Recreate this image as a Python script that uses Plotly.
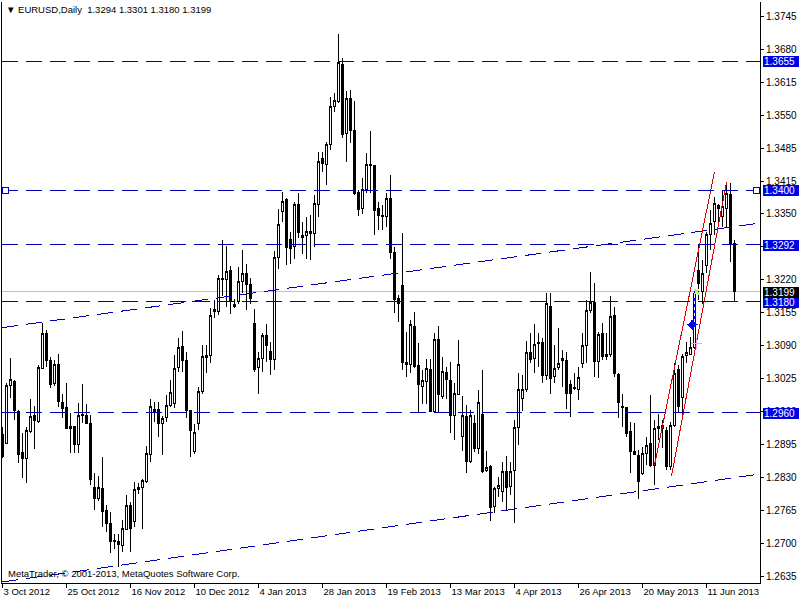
import numpy as np
import pandas as pd
import plotly.graph_objects as go

# trading days shown in the terminal (three holiday bars missing)
holidays = ["2012-12-25", "2012-12-26", "2013-01-01"]
dates = [d.strftime("%Y-%m-%d") for d in pd.bdate_range("2012-10-03", "2013-06-20")
         if d.strftime("%Y-%m-%d") not in holidays]

opens = [1.2916, 1.2899, 1.3014, 1.3021, 1.2963, 1.2881, 1.2869, 1.2923, 1.2954, 1.2942,
         1.3048, 1.3116, 1.3063, 1.3018, 1.3056, 1.2981, 1.2971, 1.2932, 1.2932, 1.2897,
         1.2955, 1.2955, 1.2939, 1.2812, 1.2790, 1.2810, 1.2766, 1.2741, 1.2708, 1.2705,
         1.2698, 1.2729, 1.2776, 1.2744, 1.2808, 1.2812, 1.2823, 1.2878, 1.2962, 1.2967,
         1.2939, 1.2951, 1.2975, 1.2978, 1.3049, 1.3092, 1.3064, 1.2964, 1.2883, 1.2938,
         1.3002, 1.3070, 1.3074, 1.3165, 1.3161, 1.3224, 1.3223, 1.3241, 1.3171, 1.3180,
         1.3219, 1.3236, 1.3213, 1.3137, 1.3050, 1.3068, 1.3112, 1.3082, 1.3065, 1.3267,
         1.3358, 1.3381, 1.3303, 1.3288, 1.3372, 1.3310, 1.3311, 1.3315, 1.3315, 1.3372,
         1.3463, 1.3451, 1.3490, 1.3565, 1.3575, 1.3649, 1.3513, 1.3581, 1.3519, 1.3396,
         1.3365, 1.3402, 1.3451, 1.3449, 1.3364, 1.3350, 1.3348, 1.3384, 1.3278, 1.3186,
         1.3211, 1.3059, 1.3056, 1.3130, 1.3054, 1.3012, 1.3021, 1.3046, 1.2962, 1.3104,
         1.2993, 1.3040, 1.3023, 1.2955, 1.2997, 1.2912, 1.2953, 1.2863, 1.2939, 1.2889,
         1.2957, 1.2846, 1.2854, 1.2774, 1.2810, 1.2804, 1.2843, 1.2815, 1.2846, 1.2931,
         1.2988, 1.3005, 1.3079, 1.3068, 1.3098, 1.3098, 1.3034, 1.3171, 1.3031, 1.3050,
         1.3067, 1.3064, 1.3015, 1.3010, 1.3006, 1.3058, 1.3094, 1.3163, 1.3178, 1.3061,
         1.3116, 1.3071, 1.3075, 1.3153, 1.3036, 1.2973, 1.2970, 1.2922, 1.2883, 1.2876,
         1.2840, 1.2879, 1.2900, 1.2856, 1.2932, 1.2929, 1.2924, 1.2853, 1.2935, 1.3046,
         1.2990, 1.3074, 1.3076, 1.3090, 1.3242, 1.3199, 1.3252, 1.3312, 1.3338, 1.3371,
         1.3348, 1.3364, 1.3391, 1.3294]
highs = [1.2932, 1.3018, 1.3068, 1.3025, 1.2965, 1.2919, 1.2932, 1.2988, 1.2973, 1.3054,
         1.3137, 1.3124, 1.3070, 1.3064, 1.3076, 1.2998, 1.3018, 1.2959, 1.2934, 1.2979,
         1.3017, 1.2977, 1.2955, 1.2840, 1.2835, 1.2873, 1.2777, 1.2764, 1.2721, 1.2721,
         1.2747, 1.2797, 1.2784, 1.2822, 1.2820, 1.2828, 1.2895, 1.2987, 1.2982, 1.2982,
         1.2954, 1.2995, 1.3025, 1.3075, 1.3107, 1.3122, 1.3081, 1.2966, 1.2938, 1.3011,
         1.3094, 1.3094, 1.3167, 1.3183, 1.3233, 1.3302, 1.3290, 1.3250, 1.3186, 1.3249,
         1.3282, 1.3254, 1.3226, 1.3166, 1.3080, 1.3118, 1.3135, 1.3100, 1.3280, 1.3364,
         1.3397, 1.3384, 1.3318, 1.3377, 1.3394, 1.3338, 1.3348, 1.3351, 1.3391, 1.3476,
         1.3476, 1.3496, 1.3585, 1.3592, 1.3709, 1.3661, 1.3597, 1.3598, 1.3577, 1.3400,
         1.3424, 1.3473, 1.3517, 1.3450, 1.3377, 1.3371, 1.3394, 1.3430, 1.3288, 1.3193,
         1.3315, 1.3120, 1.3143, 1.3160, 1.3097, 1.3044, 1.3067, 1.3067, 1.3117, 1.3132,
         1.3071, 1.3051, 1.3061, 1.3018, 1.3104, 1.2993, 1.2975, 1.2966, 1.2955, 1.3005,
         1.3044, 1.2885, 1.2856, 1.2813, 1.2833, 1.2863, 1.2874, 1.2863, 1.2946, 1.3038,
         1.3035, 1.3101, 1.3117, 1.3135, 1.3117, 1.3107, 1.3197, 1.3196, 1.3094, 1.3127,
         1.3084, 1.3081, 1.3025, 1.3038, 1.3051, 1.3117, 1.3183, 1.3239, 1.3216, 1.3120,
         1.3137, 1.3117, 1.3190, 1.3170, 1.3038, 1.2998, 1.2972, 1.2942, 1.2939, 1.2886,
         1.2892, 1.2912, 1.2995, 1.2945, 1.2958, 1.2945, 1.2932, 1.2942, 1.3058, 1.3054,
         1.3077, 1.3100, 1.3110, 1.3200, 1.3292, 1.3262, 1.3318, 1.3361, 1.3387, 1.3374,
         1.3401, 1.3417, 1.3414, 1.3301]
lows = [1.2870, 1.2898, 1.2990, 1.2945, 1.2860, 1.2830, 1.2820, 1.2919, 1.2889, 1.2939,
        1.3046, 1.3051, 1.3008, 1.3012, 1.2972, 1.2949, 1.2927, 1.2880, 1.2880, 1.2880,
        1.2939, 1.2938, 1.2817, 1.2767, 1.2785, 1.2734, 1.2724, 1.2682, 1.2690, 1.2655,
        1.2685, 1.2728, 1.2685, 1.2734, 1.2800, 1.2730, 1.2820, 1.2863, 1.2942, 1.2912,
        1.2876, 1.2942, 1.2972, 1.2970, 1.3041, 1.3041, 1.2949, 1.2873, 1.2878, 1.2926,
        1.2998, 1.3038, 1.3058, 1.3147, 1.3154, 1.3190, 1.3170, 1.3156, 1.3168, 1.3176,
        1.3196, 1.3163, 1.3176, 1.3040, 1.2998, 1.3040, 1.3060, 1.3035, 1.3045, 1.3245,
        1.3338, 1.3252, 1.3255, 1.3265, 1.3305, 1.3275, 1.3265, 1.3262, 1.3288, 1.3348,
        1.3437, 1.3410, 1.3480, 1.3556, 1.3572, 1.3503, 1.3456, 1.3493, 1.3391, 1.3350,
        1.3354, 1.3394, 1.3394, 1.3311, 1.3321, 1.3321, 1.3328, 1.3265, 1.3158, 1.3140,
        1.3044, 1.3031, 1.3038, 1.3048, 1.2962, 1.2978, 1.2978, 1.2962, 1.2959, 1.2959,
        1.2988, 1.2988, 1.2919, 1.2907, 1.2995, 1.2885, 1.2840, 1.2860, 1.2883, 1.2879,
        1.2840, 1.2843, 1.2745, 1.2761, 1.2794, 1.2784, 1.2767, 1.2797, 1.2741, 1.2896,
        1.2964, 1.3002, 1.3059, 1.3038, 1.3051, 1.3018, 1.3025, 1.2998, 1.3018, 1.3044,
        1.3011, 1.2968, 1.2952, 1.3005, 1.2985, 1.3048, 1.3058, 1.3157, 1.3031, 1.3028,
        1.3064, 1.3064, 1.3071, 1.3031, 1.2949, 1.2932, 1.2912, 1.2840, 1.2876, 1.2790,
        1.2836, 1.2856, 1.2853, 1.2817, 1.2906, 1.2890, 1.2846, 1.2846, 1.2932, 1.2962,
        1.2958, 1.3058, 1.3074, 1.3087, 1.3183, 1.3176, 1.3236, 1.3282, 1.3312, 1.3328,
        1.3328, 1.3325, 1.3259, 1.3180]
closes = [1.2873, 1.3013, 1.3026, 1.2964, 1.2878, 1.2869, 1.2924, 1.2952, 1.2944, 1.3050,
          1.3116, 1.3063, 1.3016, 1.3056, 1.2982, 1.2969, 1.2929, 1.2929, 1.2898, 1.2955,
          1.2957, 1.2939, 1.2827, 1.2790, 1.2812, 1.2764, 1.2741, 1.2705, 1.2705, 1.2699,
          1.2731, 1.2776, 1.2731, 1.2809, 1.2812, 1.2825, 1.2880, 1.2973, 1.2967, 1.2939,
          1.2949, 1.2975, 1.3000, 1.3048, 1.3089, 1.3064, 1.2964, 1.2924, 1.2920, 1.3002,
          1.3071, 1.3073, 1.3152, 1.3160, 1.3226, 1.3226, 1.3239, 1.3180, 1.3175, 1.3219,
          1.3235, 1.3213, 1.3187, 1.3045, 1.3068, 1.3112, 1.3094, 1.3065, 1.3268, 1.3333,
          1.3377, 1.3286, 1.3285, 1.3372, 1.3317, 1.3307, 1.3318, 1.3319, 1.3374, 1.3457,
          1.3453, 1.3490, 1.3565, 1.3577, 1.3653, 1.3511, 1.3581, 1.3519, 1.3394, 1.3362,
          1.3402, 1.3451, 1.3449, 1.3361, 1.3351, 1.3349, 1.3384, 1.3278, 1.3185, 1.3176,
          1.3059, 1.3056, 1.3135, 1.3052, 1.3015, 1.3023, 1.3048, 1.2962, 1.3104, 1.2997,
          1.3042, 1.3026, 1.2955, 1.2999, 1.3056, 1.2955, 1.2863, 1.2955, 1.2889, 1.2980,
          1.2843, 1.2852, 1.2773, 1.2810, 1.2817, 1.2843, 1.2813, 1.2843, 1.2931, 1.3006,
          1.3006, 1.3079, 1.3066, 1.3096, 1.3097, 1.3034, 1.3176, 1.3028, 1.3047, 1.3058,
          1.3063, 1.2998, 1.2999, 1.3008, 1.3030, 1.3094, 1.3163, 1.3178, 1.3061, 1.3114,
          1.3071, 1.3075, 1.3150, 1.3038, 1.2980, 1.2970, 1.2919, 1.2883, 1.2878, 1.2823,
          1.2879, 1.2896, 1.2856, 1.2929, 1.2929, 1.2935, 1.2853, 1.2935, 1.3038, 1.2972,
          1.3072, 1.3079, 1.3089, 1.3196, 1.3215, 1.3236, 1.3312, 1.3335, 1.3374, 1.3364,
          1.3368, 1.3394, 1.3295, 1.3199]

# horizontal levels drawn on the chart
level_prices = [1.3655, 1.3400, 1.3292, 1.3180, 1.2960]
bid_price = closes[-1]

# trend lines: two anchor points each (bar index, price)
resist_bars, resist_prices = [0, 183], [1.31285, 1.33283]
support_bars, support_prices = [0, 183], [1.26251, 1.28315]
red_a_bars, red_a_prices = [163, 178], [1.28566, 1.34363]
red_b_bars, red_b_prices = [167.25, 181], [1.28348, 1.34166]

# trade marks
trade_open_bar, trade_open_price = 172.4, 1.3134
trade_close_bar, trade_close_price = 173.6, 1.3199
trade_line_bar = 173
stop_bar, stop_price = 173.5, 1.3097

ytick_labels = ["1.2635", "1.2700", "1.2765", "1.2830", "1.2895", "1.2960", "1.3025",
                "1.3090", "1.3155", "1.3220", "1.3285", "1.3350", "1.3415", "1.3485",
                "1.3550", "1.3615", "1.3680", "1.3745"]
xtick_labels = ["3 Oct 2012", "25 Oct 2012", "16 Nov 2012", "10 Dec 2012", "4 Jan 2013",
                "28 Jan 2013", "19 Feb 2013", "13 Mar 2013", "4 Apr 2013", "26 Apr 2013",
                "20 May 2013", "11 Jun 2013"]

X_RANGE = [-0.125, 189.375]
Y_RANGE = [1.26231, 1.37727]
FONT = "Liberation Sans, Arial, sans-serif"
LINE_BLUE = "#0000B4"
LABEL_BLUE = "#0000E6"
DASH = "16px,8px"


def extend(bars, prices):
    slope = (prices[1] - prices[0]) / (bars[1] - bars[0])
    return X_RANGE, [prices[0] + slope * (x - bars[0]) for x in X_RANGE]


idx = list(range(len(dates)))
fig = go.Figure()

fig.add_trace(go.Candlestick(
    x=idx, open=opens, high=highs, low=lows, close=closes,
    hovertext=dates, whiskerwidth=0,
    increasing=dict(line=dict(color="black", width=1), fillcolor="white"),
    decreasing=dict(line=dict(color="black", width=1), fillcolor="black"),
    showlegend=False,
))

# bid line
fig.add_hline(y=bid_price, line=dict(color="#C0C0C0", width=1), layer="below")

for bars, prices in [(resist_bars, resist_prices), (support_bars, support_prices)]:
    xs, ys = extend(bars, prices)
    fig.add_trace(go.Scatter(x=xs, y=ys, mode="lines", showlegend=False, hoverinfo="skip",
                             line=dict(color=LINE_BLUE, width=1, dash=DASH)))

for bars, prices in [(red_a_bars, red_a_prices), (red_b_bars, red_b_prices)]:
    fig.add_trace(go.Scatter(x=bars, y=prices, mode="lines", showlegend=False, hoverinfo="skip",
                             line=dict(color="#E00000", width=1)))

for p in level_prices:
    fig.add_hline(y=p, line=dict(color=LINE_BLUE, width=1, dash=DASH))

# trade marks
fig.add_trace(go.Scatter(x=[trade_line_bar, trade_line_bar], y=[trade_open_price, trade_close_price],
                         mode="lines", showlegend=False, hoverinfo="skip",
                         line=dict(color="#0000FF", width=2, dash="dot")))
fig.add_trace(go.Scatter(x=[trade_open_bar], y=[trade_open_price], mode="markers", showlegend=False,
                         hoverinfo="skip", marker=dict(symbol="star-diamond", size=9, color="#0000FF")))
fig.add_trace(go.Scatter(x=[trade_close_bar], y=[trade_close_price], mode="markers", showlegend=False,
                         hoverinfo="skip",
                         marker=dict(symbol="x-thin-open", size=5, line=dict(color="#D0A040", width=1.5))))
fig.add_trace(go.Scatter(x=[stop_bar], y=[stop_price], mode="markers", showlegend=False,
                         hoverinfo="skip",
                         marker=dict(symbol="cross-thin-open", size=8, line=dict(color="#FF0000", width=1.5))))

# selection handles on the 1.3400 line
for px_ in [0.004, 0.9955]:
    fig.add_shape(type="rect", xref="paper", yref="y", xsizemode="pixel", ysizemode="pixel",
                  xanchor=px_, yanchor=level_prices[1], x0=-3, x1=3, y0=-3, y1=3,
                  line=dict(color=LINE_BLUE, width=1), fillcolor="white")

# price labels on the scale
for p, bg in [(p, LABEL_BLUE) for p in level_prices] + [(bid_price, "black")]:
    fig.add_annotation(x=1, xref="paper", y=p, yref="y", xanchor="left", xshift=2,
                       text=f"{p:.4f}", showarrow=False, bgcolor=bg, borderpad=1,
                       width=33, height=8, align="left",
                       font=dict(family=FONT, size=10, color="white"))

fig.add_annotation(x=0, xref="paper", y=1, yref="paper", xanchor="left", yanchor="top",
                   xshift=2, yshift=0, showarrow=False, align="left",
                   text=f"\u25bc EURUSD,Daily\u00a0 {opens[-1]:.4f} {highs[-1]:.4f} {lows[-1]:.4f} {closes[-1]:.4f}",
                   font=dict(family=FONT, size=9.5, color="black"))
fig.add_annotation(x=0, xref="paper", y=0, yref="paper", xanchor="left", yanchor="bottom",
                   xshift=4, yshift=2, showarrow=False,
                   text="MetaTrader, \u00a9 2001-2013, MetaQuotes Software Corp.",
                   font=dict(family=FONT, size=9.5, color="black"))

fig.update_layout(
    width=800, height=600,
    margin=dict(l=2, r=40, t=2, b=17, autoexpand=False),
    paper_bgcolor="white", plot_bgcolor="white",
    boxgap=0.5, boxgroupgap=0,
    font=dict(family=FONT, size=10, color="black"),
    xaxis=dict(range=X_RANGE, rangeslider=dict(visible=False), showgrid=False, zeroline=False,
               showline=True, linecolor="black", linewidth=1,
               ticks="outside", ticklen=4, tickcolor="black", tickangle=0,
               tickvals=list(range(0, 16 * len(xtick_labels), 16)), ticktext=xtick_labels,
               ticklabelposition="outside right", tickfont=dict(family=FONT, size=9.5)),
    yaxis=dict(range=Y_RANGE, side="right", showgrid=False, zeroline=False,
               showline=True, mirror=True, linecolor="black", linewidth=1,
               ticks="outside", ticklen=3, tickcolor="black",
               tickvals=list(np.linspace(1.2635, 1.3745, len(ytick_labels))), ticktext=ytick_labels,
               tickfont=dict(family=FONT, size=10)),
    hovermode=False,
)

# terminal-style aliased drawing, no page margin
js = ("document.body.style.margin='0';document.body.style.overflow='hidden';"
      "document.querySelectorAll('svg.main-svg').forEach(function(s){s.style.shapeRendering='crispEdges';});")
fig.write_html("out.html", config={"displayModeBar": False}, post_script=js)
